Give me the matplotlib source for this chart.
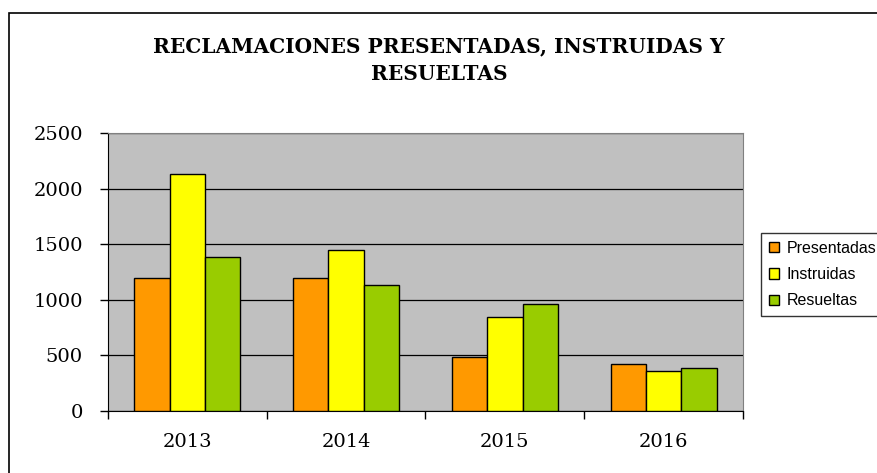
import matplotlib.pyplot as plt
import matplotlib.patches as mpatches
import numpy as np

# datos
years = ['2013', '2014', '2015', '2016']
presentadas = [1200, 1200, 485, 425]
instruidas = [2135, 1445, 845, 358]
resueltas = [1388, 1135, 958, 385]

series = {
    'Presentadas': (presentadas, '#FF9900'),
    'Instruidas': (instruidas, '#FFFF00'),
    'Resueltas': (resueltas, '#99CC00'),
}

fig = plt.figure(figsize=(8.78, 4.73), dpi=100)
ax = fig.add_axes([108 / 878, 1 - 411 / 473, 635 / 878, 278 / 473])

x = np.arange(len(years))
width = 2 / 9
for i, (name, (vals, col)) in enumerate(series.items()):
    ax.bar(x + (i - 1) * width, vals, width, color=col, edgecolor='black',
           linewidth=1.0, label=name, zorder=3)

ax.set_facecolor('#C0C0C0')
ax.set_xlim(-0.5, 3.5)
ax.set_ylim(0, 2500)
ax.set_yticks(range(0, 2501, 500))
ax.yaxis.grid(True, color='black', linewidth=0.9, zorder=1)
ax.set_axisbelow(True)

# etiquetas en el centro, marcas en los limites de categoria
ax.set_xticks(x)
ax.set_xticklabels(years)
ax.set_xticks(np.arange(-0.5, 4, 1), minor=True)
ax.tick_params(axis='x', which='major', length=0, pad=16)
ax.tick_params(axis='x', which='minor', length=6, width=1, direction='out')
ax.tick_params(axis='y', length=6, width=1, direction='out', pad=12)
for lab in ax.get_xticklabels() + ax.get_yticklabels():
    lab.set_fontfamily('DejaVu Serif')
    lab.set_fontsize(14)

ax.spines['left'].set_color('black')
ax.spines['bottom'].set_color('black')
ax.spines['top'].set_color('#808080')
ax.spines['right'].set_color('#808080')

fig.text(0.5, 1 - 46 / 473, 'RECLAMACIONES PRESENTADAS, INSTRUIDAS Y',
         ha='center', va='center', fontfamily='DejaVu Serif',
         fontweight='bold', fontsize=14.5)
fig.text(0.5, 1 - 74 / 473, 'RESUELTAS', ha='center', va='center',
         fontfamily='DejaVu Serif', fontweight='bold', fontsize=14.5)

leg = fig.legend(loc='upper left', bbox_to_anchor=(761 / 878, 1 - 233 / 473),
                 frameon=True, fancybox=False, edgecolor='black',
                 prop={'family': 'Liberation Sans', 'size': 11.5},
                 handlelength=0.6, handleheight=0.6, handletextpad=0.5,
                 labelspacing=0.7, borderpad=0.5, borderaxespad=0)
leg.get_frame().set_linewidth(1.0)

# borde del area del grafico
fig.patches.append(mpatches.Rectangle((8.5 / 878, -0.1), 1.2, 1.1 - 13 / 473,
                                      transform=fig.transFigure, fill=False,
                                      edgecolor='black', linewidth=1.2))

fig.savefig('out.png', dpi=100)
